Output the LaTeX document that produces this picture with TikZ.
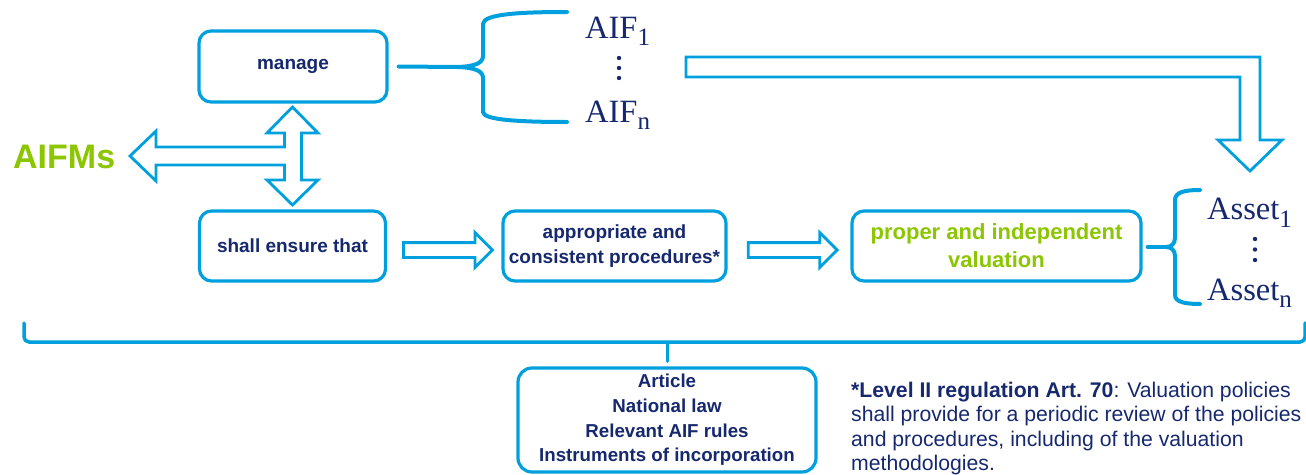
\documentclass[tikz,border=0pt]{standalone}
\usepackage{fontspec}
\setmainfont{Liberation Sans}
\newfontfamily\serifaif{Liberation Serif}
\usetikzlibrary{calc,shapes.arrows}
\definecolor{cy}{RGB}{0,160,222}
\definecolor{navy}{RGB}{22,40,110}
\definecolor{lgreen}{RGB}{140,198,0}
\begin{document}
\begin{tikzpicture}[x=1pt,y=-1pt,
  box/.style={draw=cy,line width=3.2pt,rounded corners=12pt,fill=white,text=navy,
    font=\fontsize{19}{25}\selectfont\bfseries,align=center,inner sep=0pt},
  blockarrow/.style={draw=cy,line width=2.8pt,fill=white,line join=miter},
  harrow/.style={single arrow,draw=cy,line width=2.8pt,fill=white,minimum height=89pt,
    inner sep=6pt,single arrow head extend=10pt,single arrow tip angle=90,anchor=center},
  bracestyle/.style={draw=cy,line width=4pt,line cap=round,line join=round},
  serift/.style={text=navy,font=\fontsize{32.5}{36}\serifaif,inner sep=0pt},
  subs/.style={},
  dotstyle/.style={fill=navy}
]
\useasboundingbox (0,0) rectangle (1306,474);

% boxes
\node[box,minimum width=188pt,minimum height=71pt] (manage) at (293,66.5) {manage};
\node[box,minimum width=186pt,minimum height=70pt] (shall) at (292.5,246) {shall ensure that};
\node[box,minimum width=223pt,minimum height=70pt] (appr) at (614.5,246) {appropriate and\\consistent procedures*};
\node[box,minimum width=289pt,minimum height=70pt,text=lgreen,
  font=\fontsize{22}{28}\selectfont\bfseries] (proper) at (996.5,246) {proper and independent\\valuation};
\node[box,minimum width=298pt,minimum height=104pt,rounded corners=14pt,
  font=\fontsize{18.7}{24.7}\selectfont\bfseries] (law) at (667,420)
  {Article\\National law\\Relevant AIF rules\\Instruments of incorporation};

% AIFMs label
\node[anchor=base west,text=lgreen,font=\fontsize{34}{40}\selectfont\bfseries,inner sep=0pt] (aifms) at (13,168) {AIFMs};

% T-shaped arrow
\draw[blockarrow] (292.5,107) -- (318,133) -- (301.5,133) -- (301.5,180) -- (318,180) -- (292.5,205)
  -- (267,180) -- (284.5,180) -- (284.5,165) -- (156,165) -- (156,181) -- (130,156) -- (156,131)
  -- (156,147) -- (284.5,147) -- (284.5,133) -- (267,133) -- cycle;

% horizontal hollow arrows
\node[harrow] (ar1) at ($($(shall.east)!0.5!(appr.west)$)+(0,4)$) {};
\node[harrow] (ar2) at ($($(appr.east)!0.5!(proper.west)$)+(0,4)$) {};

% AIF brace and labels
\coordinate (aiftip) at (457,67);
\draw[bracestyle] ($(manage.east)+(10,0)$) -- (aiftip);
\draw[bracestyle] (567,12) .. controls (520,12) and (483,14) .. (483,24) -- (483,56)
  .. controls (483,63) and (475,66.5) .. (aiftip)
  .. controls (475,67.5) and (483,71) .. (483,78) -- (483,112)
  .. controls (483,120) and (520,122) .. (567,122);
\node[serift,anchor=base west] (aif1) at (585,38) {AIF\raisebox{-7pt}{\fontsize{25}{25}\selectfont 1}};
\node[serift,anchor=base west] (aifn) at (585,122) {AIF\raisebox{-7pt}{\fontsize{25}{25}\selectfont n}};
\fill[dotstyle] (619,58) circle (2.2) (619,68) circle (2.2) (619,78) circle (2.2);

% L-shaped arrow from AIFs to assets
\draw[blockarrow] (686,57) -- (1260,57) -- (1260,140) -- (1282,140) -- (1250,171) -- (1218,140)
  -- (1240,140) -- (1240,77) -- (686,77) -- cycle;

% Asset brace and labels
\coordinate (astip) at (1166,247);
\draw[bracestyle] ($(proper.east)+(5,1)$) -- (astip);
\draw[bracestyle] (1200,190) .. controls (1185,190) and (1175,192) .. (1175,200) -- (1175,238)
  .. controls (1175,244) and (1171,247) .. (astip)
  .. controls (1171,247) and (1175,250) .. (1175,256) -- (1175,295)
  .. controls (1175,302) and (1185,304) .. (1200,304);
\node[serift,anchor=base west] (as1) at (1207,219) {Asset\raisebox{-8pt}{\fontsize{25}{25}\selectfont 1}};
\node[serift,anchor=base west] (asn) at (1207,300) {Asset\raisebox{-7pt}{\fontsize{25}{25}\selectfont n}};
\fill[dotstyle] (1255,239) circle (2.2) (1255,249.5) circle (2.2) (1255,260) circle (2.2);

% bottom bracket
\coordinate (brkmid) at (667,342);
\draw[bracestyle,line width=3.5pt,rounded corners=5pt] (24,323) -- (24,342) -- (1305,342) -- (1305,323);
\draw[bracestyle,line width=3pt] (brkmid) -- ($(law.north)+(0,-5)$);

% footnote
\node[anchor=north west,text=navy,align=left,inner sep=0pt,
  font=\fontsize{21.2}{24.3}\selectfont] (note) at (851,382)
  {\textbf{*Level II regulation Art. 70}: Valuation policies\\
   shall provide for a periodic review of the policies\\
   and procedures, including of the valuation\\
   methodologies.};
\end{tikzpicture}
\end{document}
